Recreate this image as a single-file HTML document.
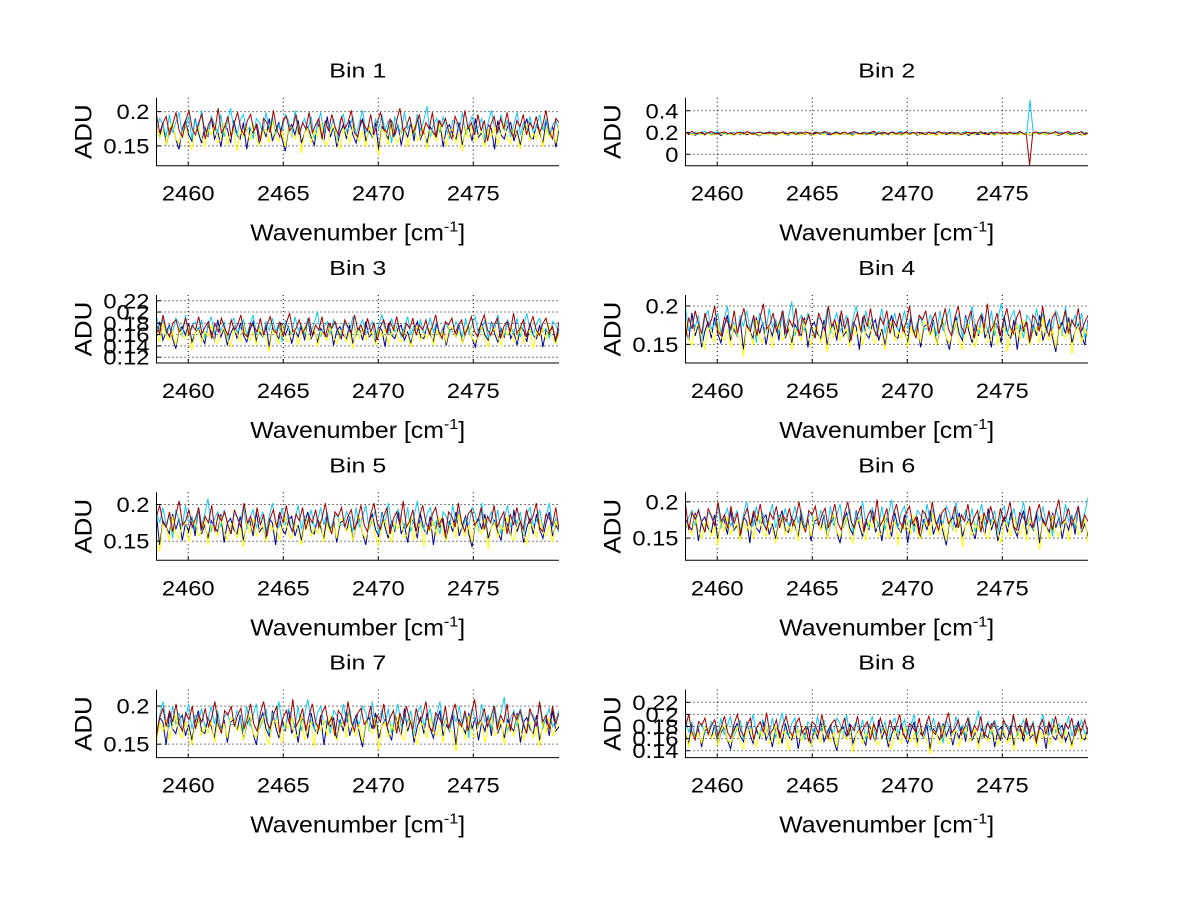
<!DOCTYPE html>
<html><head><meta charset="utf-8"><style>
html,body{margin:0;padding:0;background:#fff;}
svg{display:block;font-family:"Liberation Sans",sans-serif;}
</style></head><body>
<svg id="fig" width="1200" height="901" viewBox="0 0 1200 901" xmlns="http://www.w3.org/2000/svg">
<rect width="1200" height="901" fill="#fff"/>
</svg>
<script>
const binTitles = ["Bin 1","Bin 2","Bin 3","Bin 4","Bin 5","Bin 6","Bin 7","Bin 8"];
const xTicks = [2460, 2465, 2470, 2475];
const xDomain = [2458.33, 2479.51];
const yLims = [[0.121,0.2204],[-0.105,0.52],[0.1097,0.2302],[0.1257,0.2143],[0.124,0.2167],[0.1194,0.2131],[0.1324,0.2216],[0.1286,0.241]];
const yTicks = [[0.15,0.2],[0,0.2,0.4],[0.12,0.14,0.16,0.18,0.2,0.22],[0.15,0.2],[0.15,0.2],[0.15,0.2],[0.15,0.2],[0.14,0.16,0.18,0.2,0.22]];
const yTickLabels = [["0.15","0.2"],["0","0.2","0.4"],["0.12","0.14","0.16","0.18","0.2","0.22"],["0.15","0.2"],["0.15","0.2"],["0.15","0.2"],["0.15","0.2"],["0.14","0.16","0.18","0.2","0.22"]];
const binLevel = [0.172, 0.19, 0.165, 0.170, 0.172, 0.170, 0.176, 0.170];
const binScale = [0.003, 0.002, 0.003, 0.003, 0.003, 0.003, 0.003, 0.003];
const seriesOffset = [-1, 2, -2, 2];
const seriesColors = ["#00008f","#10c8f0","#ffff00","#a00000"];
const seriesBlue = [3,-2,5,-6,1,4,-3,-8,2,6,-1,-4,7,0,-5,3,-2,8,-3,1,-7,4,2,-5,6,-1,-3,5,-8,2,0,4,-6,3,-2,7,-4,1,5,-3,-9,2,4,-1,6,-5,0,3,-2,-6,5,1,-4,8,-2,3,-7,0,4,-3,6,-1,-5,2,7,-4,1,-2,5,-8,3,0,-3,6,-1,4,-6,2,-2,5,-4,9,-3,1,-5,3,0,-2,6,-7,2,4,-1,-3,5,-6,1,3,-4,7,-2,0,-5,4,2,-8,6,-1,-3,3,5,-4,1,-6,2,7,-2,-3,4,0,-5,6,-1,3,-7,2];
const seriesCyan = [-2,4,1,-5,6,-3,2,7,-4,0,5,-6,3,-1,8,-2,-4,5,1,-3,6,-5,2,9,-1,-4,3,6,-2,0,-6,4,2,-3,7,-1,5,-4,1,-2,6,3,-5,8,-3,0,4,-2,5,-6,1,7,-3,2,-1,4,-7,3,6,-2,0,5,-4,2,8,-3,1,-5,4,-1,6,-2,3,-8,5,0,-3,7,-1,2,-4,6,-2,3,10,-5,1,4,-3,5,-1,-6,3,2,-2,7,-4,1,5,-3,0,4,-6,2,8,-1,-3,6,-2,3,-5,1,7,-4,2,-1,5,-3,0,6,-2,4,-5,1,3,-2];
const seriesYellow = [4,-1,2,-5,3,6,-2,-4,1,5,-3,-7,2,4,-1,-6,3,0,5,-4,-2,6,-5,1,3,-8,2,-1,4,-3,6,-2,-5,1,3,-4,7,-1,-3,2,-6,4,0,-2,5,-9,1,3,-4,2,-1,6,-3,-5,2,4,-2,-7,3,1,-4,5,-1,-3,2,-6,4,0,-2,-10,3,1,-5,6,-2,-4,2,3,-6,1,5,-3,-1,4,-7,2,0,-3,6,-1,-5,2,3,-4,1,-8,4,-2,5,-3,0,2,-6,3,-1,4,-5,1,6,-2,-4,3,0,-7,2,5,-3,1,-2,4,-6,3,-1,2,-4,5];
const seriesRed = [6,-3,2,5,-4,1,7,-2,-5,3,8,-1,-4,2,6,-6,1,4,-2,9,-3,0,5,-5,2,7,-1,-4,3,6,-2,1,-7,4,2,-3,8,-1,-5,3,5,-2,0,6,-4,2,-1,7,-3,1,4,-6,3,-2,6,0,-4,5,-1,2,8,-3,-5,3,1,-2,6,-4,2,7,-1,-3,4,-5,3,9,-2,0,5,-3,1,6,-4,2,-1,7,-5,3,0,4,-2,-6,5,1,-3,8,-1,2,-4,6,-2,3,-7,1,5,-3,4,-1,7,-2,-5,3,0,6,-4,2,-1,5,-3,1,8,-2,-6,4,2];
const seriesData = [seriesBlue, seriesCyan, seriesYellow, seriesRed];
const spikeBin = 1;
const spikeX = 2476.3;
const spikeValues = [null, 0.5, null, -0.1];

const svg = document.getElementById('fig');
const NS = 'http://www.w3.org/2000/svg';
function mk(tag, attrs, parent){
  const e = document.createElementNS(NS, tag);
  for (const k in attrs) e.setAttribute(k, attrs[k]);
  parent.appendChild(e);
  return e;
}
function txt(parent, x, y, size, sx, anchor, content){
  return mk('text', {x: 0, y: 0, 'font-size': size, 'text-anchor': anchor, transform: `translate(${x},${y}) scale(${sx},1)`}, parent);
}
const axW = 402.5, axH = 68;
for (let i = 0; i < 8; i++) {
  const col = i % 2, row = Math.floor(i / 2);
  const L = col ? 685.5 : 156.5;
  const T = 97.7 + row * 197.3;
  const B = T + axH, R = L + axW;
  const g = mk('g', {}, svg);
  
  
  const xs = v => L + (v - xDomain[0]) / (xDomain[1] - xDomain[0]) * axW;
  const ys = v => B - (v - yLims[i][0]) / (yLims[i][1] - yLims[i][0]) * axH;
  const clipId = 'clip' + i;
  const cp = mk('clipPath', {id: clipId}, g);
  mk('rect', {x: L, y: T, width: axW, height: axH}, cp);
  const grid = mk('g', {stroke: '#000', 'stroke-width': 1, 'stroke-dasharray': '1,3'}, g);
  
  
  xTicks.forEach(t => { const x = xs(t); mk('line', {x1: x, x2: x, y1: T, y2: B}, grid); });
  yTicks[i].forEach(t => { const y = ys(t); mk('line', {x1: L, x2: R, y1: y, y2: y}, grid); });
  const lines = mk('g', {'clip-path': 'url(#' + clipId + ')', fill: 'none', 'stroke-width': 1}, g);
  seriesData.forEach((arr, s) => {
    const N = arr.length;
    const pts = [];
    let spiked = false;
    for (let k = 0; k < N; k++) {
      const xv = xDomain[0] + k * (xDomain[1] - xDomain[0]) / (N - 1);
      let v = binLevel[i] + (seriesOffset[s] + arr[(k + i * 17) % N]) * binScale[i];
      if (i === spikeBin && spikeValues[s] !== null && !spiked && xv >= spikeX) { v = spikeValues[s]; spiked = true; }
      pts.push(xs(xv).toFixed(1) + ',' + ys(v).toFixed(1));
    }
    const pl = mk('polyline', {points: pts.join(' '), stroke: seriesColors[s]}, lines);
    
    
  });
  const ax = mk('path', {d: `M${L},${T} L${L},${B} L${R},${B}`, stroke: '#000', fill: 'none', 'stroke-width': 1}, g);
  
  
  xTicks.forEach(t => {
    const x = xs(t);
    mk('line', {x1: x, x2: x, y1: B, y2: B - 4, stroke: '#000'}, g);
    const tx = txt(g, x, B + 35, 21, 1.13, 'middle');
    tx.textContent = String(t);
    
    
  });
  yTicks[i].forEach((t, j) => {
    const y = ys(t);
    mk('line', {x1: L, x2: L + 4, y1: y, y2: y, stroke: '#000'}, g);
    const tx = txt(g, L - 7, y + 7.5, 21, 1.13, 'end');
    tx.textContent = yTickLabels[i][j];
    
    
  });
  const cx = L + axW / 2;
  const title = txt(g, cx, T - 20, 20, 1.25, 'middle');
  title.textContent = binTitles[i];
  
  
  const xl = txt(g, cx, T + 143, 23, 1.08, 'middle');
  xl.innerHTML = 'Wavenumber [cm<tspan dy="-9" font-size="15">-1</tspan><tspan dy="9">]</tspan>';
  
  
  const yl = mk('text', {x: 0, y: 0, 'font-size': 24, 'text-anchor': 'middle', transform: `translate(${L - 65},${T + axH / 2}) rotate(-90) scale(1.08,1)`}, g);
  yl.textContent = 'ADU';
  
  
}
</script>
</body></html>
